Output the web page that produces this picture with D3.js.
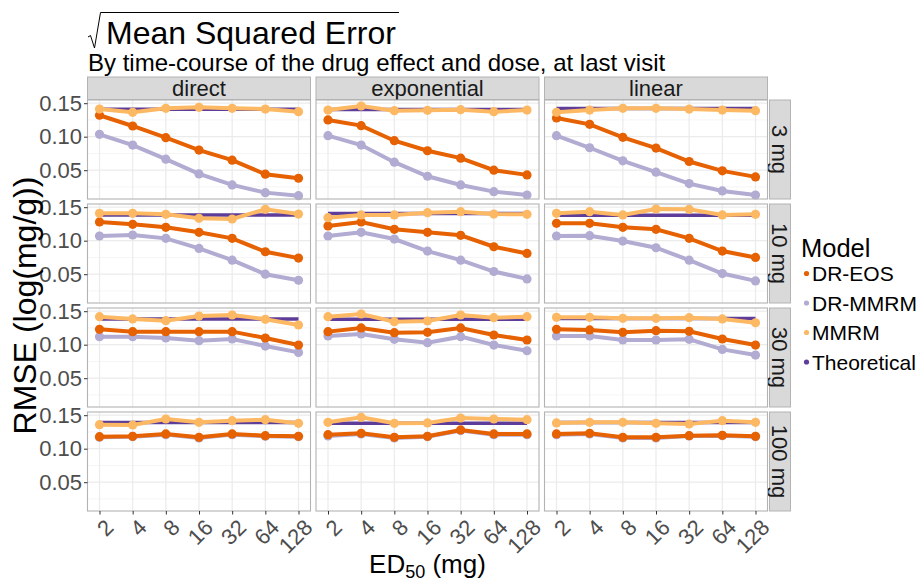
<!DOCTYPE html>
<html lang="en">
<head>
<meta charset="UTF-8">
<title>RMSE</title>
<script src="https://cdn.jsdelivr.net/npm/d3@7"></script>
<style>
  body { margin: 0; background: #fff; }
  svg { font-family: "Liberation Sans", Arial, sans-serif; }
</style>
</head>
<body>
<div class="chart"></div>
<script>
const doses = ['3 mg', '10 mg', '30 mg', '100 mg']
const courses = ['direct', 'exponential', 'linear']
const ed50 = [2, 4, 8, 16, 32, 64, 128]
const models = ['DR-EOS', 'DR-MMRM', 'MMRM', 'Theoretical']
const yTicks = [0.05, 0.10, 0.15]

// values per [dose][course][ed50]
const drEos = [
  [[0.132, 0.116, 0.0985, 0.080, 0.065, 0.044, 0.038],
   [0.125, 0.1165, 0.094, 0.079, 0.068, 0.050, 0.043],
   [0.128, 0.1185, 0.099, 0.083, 0.063, 0.049, 0.040]],
  [[0.128, 0.1245, 0.120, 0.1125, 0.1035, 0.0835, 0.074],
   [0.122, 0.128, 0.117, 0.1125, 0.108, 0.091, 0.081],
   [0.126, 0.126, 0.120, 0.117, 0.1035, 0.0845, 0.075]],
  [[0.123, 0.1195, 0.1195, 0.1195, 0.1195, 0.110, 0.0995],
   [0.1195, 0.125, 0.118, 0.1185, 0.125, 0.1145, 0.107],
   [0.123, 0.122, 0.1185, 0.121, 0.120, 0.1085, 0.0995]],
  [[0.118, 0.1185, 0.122, 0.117, 0.122, 0.1195, 0.1185],
   [0.121, 0.123, 0.117, 0.1185, 0.128, 0.122, 0.122],
   [0.122, 0.123, 0.117, 0.117, 0.1195, 0.120, 0.1185]]
]
const drMmrm = [
  [[0.1035, 0.0875, 0.0665, 0.0445, 0.028, 0.0165, 0.012],
   [0.1015, 0.0875, 0.062, 0.041, 0.028, 0.018, 0.013],
   [0.1015, 0.0835, 0.064, 0.047, 0.030, 0.019, 0.013]],
  [[0.107, 0.1085, 0.1035, 0.0885, 0.071, 0.050, 0.041],
   [0.107, 0.1125, 0.1025, 0.0845, 0.071, 0.054, 0.043],
   [0.107, 0.1075, 0.0995, 0.0895, 0.071, 0.051, 0.040]],
  [[0.112, 0.112, 0.110, 0.106, 0.1085, 0.098, 0.0885],
   [0.113, 0.116, 0.108, 0.103, 0.112, 0.0995, 0.091],
   [0.113, 0.113, 0.107, 0.107, 0.108, 0.093, 0.0845]],
  [[0.117, 0.118, 0.121, 0.116, 0.121, 0.1185, 0.118],
   [0.119, 0.122, 0.116, 0.118, 0.127, 0.121, 0.121],
   [0.121, 0.122, 0.116, 0.116, 0.119, 0.1195, 0.118]]
]
const mmrm = [
  [[0.1413, 0.1364, 0.1424, 0.1439, 0.1424, 0.1413, 0.1373],
   [0.1398, 0.1458, 0.1388, 0.1394, 0.1403, 0.1373, 0.1398],
   [0.1364, 0.1398, 0.1424, 0.1424, 0.1413, 0.1398, 0.1388]],
  [[0.1409, 0.1409, 0.1394, 0.1334, 0.1324, 0.1469, 0.1398],
   [0.1343, 0.1384, 0.1384, 0.1418, 0.1433, 0.1398, 0.1394],
   [0.1409, 0.1433, 0.1384, 0.1473, 0.1469, 0.1384, 0.1394]],
  [[0.1418, 0.1384, 0.1358, 0.1428, 0.1443, 0.1379, 0.1294],
   [0.1418, 0.1458, 0.1343, 0.1354, 0.1443, 0.1403, 0.1418],
   [0.1409, 0.1409, 0.1394, 0.1394, 0.1403, 0.1384, 0.1328]],
  [[0.1358, 0.1354, 0.1443, 0.1394, 0.1418, 0.1433, 0.1379],
   [0.1394, 0.1469, 0.1379, 0.1384, 0.1458, 0.1443, 0.1433],
   [0.1384, 0.1394, 0.1394, 0.1379, 0.1369, 0.1418, 0.1394]]
]
const theoretical = [
  [[0.141, 0.141, 0.141, 0.141, 0.141, 0.141, 0.141],
   [0.1405, 0.1405, 0.1405, 0.1405, 0.1405, 0.1405, 0.1405],
   [0.142, 0.142, 0.142, 0.142, 0.142, 0.142, 0.142]],
  [[0.1385, 0.1385, 0.1385, 0.1385, 0.1385, 0.1385, 0.1385],
   [0.1405, 0.1405, 0.1405, 0.1405, 0.1405, 0.1405, 0.1405],
   [0.138, 0.138, 0.138, 0.138, 0.138, 0.138, 0.138]],
  [[0.1385, 0.1385, 0.1385, 0.1385, 0.1385, 0.1385, 0.1385],
   [0.138, 0.138, 0.138, 0.138, 0.138, 0.138, 0.138],
   [0.139, 0.139, 0.139, 0.139, 0.139, 0.139, 0.139]],
  [[0.139, 0.139, 0.139, 0.139, 0.139, 0.139, 0.139],
   [0.138, 0.138, 0.138, 0.138, 0.138, 0.138, 0.138],
   [0.139, 0.139, 0.139, 0.139, 0.139, 0.139, 0.139]]
]

const colors = { 'DR-EOS': '#e66101', 'DR-MMRM': '#b2abd2', 'MMRM': '#fdb863', 'Theoretical': '#5e3c99' }
const seriesOf = { 'DR-EOS': drEos, 'DR-MMRM': drMmrm, 'MMRM': mmrm, 'Theoretical': theoretical }
// draw order inside a panel
const drawOrder = ['Theoretical', 'DR-MMRM', 'DR-EOS', 'MMRM']

const width = 920
const height = 582
const svg = d3.select('.chart').append('svg')
  .attr('width', width)
  .attr('height', height)

const pw = 223
const ph = 99
const colX = [87.5, 316, 544.5]
const rowY = [100, 204, 308, 412]
const stripH = 23

const x = d3.scaleLog().base(2).domain([2, 128]).range([12, pw - 12])
const y = d3.scaleLinear().domain([0.00701, 0.15478]).range([ph, 0])
const minorY = [0.025, 0.075, 0.125]

// title with a square-root sign
svg.append('path')
  .attr('d', 'M88,37 L90.5,35.5 L94.5,48 L100.5,12.5 L399,12.5')
  .attr('fill', 'none').attr('stroke', '#000').attr('stroke-width', 1)
svg.append('text').attr('x', 106).attr('y', 44)
  .attr('font-size', 32).attr('fill', '#000').text('Mean Squared Error')
svg.append('text').attr('x', 88).attr('y', 71)
  .attr('font-size', 24).attr('fill', '#000')
  .text('By time-course of the drug effect and dose, at last visit')

// top strips
courses.forEach((c, j) => {
  const g = svg.append('g').attr('transform', `translate(${colX[j]},${rowY[0] - stripH})`)
  g.append('rect').attr('width', pw).attr('height', stripH - 0.5)
    .attr('fill', '#d9d9d9').attr('stroke', '#b3b3b3')
  g.append('text').attr('x', pw / 2).attr('y', stripH / 2 + 7.5)
    .attr('text-anchor', 'middle').attr('font-size', 22).attr('fill', '#1a1a1a').text(c)
})

const line = d3.line().x((d, i) => x(ed50[i])).y(d => y(d))

doses.forEach((dose, r) => {
  // right strip
  const sg = svg.append('g').attr('transform', `translate(${colX[2] + pw + 2},${rowY[r]})`)
  sg.append('rect').attr('width', 21).attr('height', ph)
    .attr('fill', '#d9d9d9').attr('stroke', '#b3b3b3')
  sg.append('text').attr('transform', `translate(${10.5},${ph / 2}) rotate(90)`)
    .attr('text-anchor', 'middle').attr('dy', '0.35em')
    .attr('font-size', 22).attr('fill', '#1a1a1a').text(dose)

  courses.forEach((course, j) => {
    const g = svg.append('g').attr('transform', `translate(${colX[j]},${rowY[r]})`)
    g.append('rect').attr('width', pw).attr('height', ph).attr('fill', '#fff')
    g.selectAll('.minor').data(minorY).join('line')
      .attr('x1', 0).attr('x2', pw).attr('y1', d => y(d)).attr('y2', d => y(d))
      .attr('stroke', '#f2f2f2').attr('stroke-width', 0.8)
    g.selectAll('.gy').data(yTicks).join('line')
      .attr('x1', 0).attr('x2', pw).attr('y1', d => y(d)).attr('y2', d => y(d))
      .attr('stroke', '#ebebeb').attr('stroke-width', 1.2)
    g.selectAll('.gx').data(ed50).join('line')
      .attr('x1', d => x(d)).attr('x2', d => x(d)).attr('y1', 0).attr('y2', ph)
      .attr('stroke', '#ebebeb').attr('stroke-width', 1.2)

    drawOrder.forEach(m => {
      const vals = seriesOf[m][r][j]
      g.append('path').datum(vals)
        .attr('d', line).attr('fill', 'none')
        .attr('stroke', colors[m]).attr('stroke-width', m === 'Theoretical' ? 3.5 : 4)
      if (m !== 'Theoretical') {
        g.selectAll(null).data(vals).join('circle')
          .attr('cx', (d, i) => x(ed50[i])).attr('cy', d => y(d))
          .attr('r', 4.6).attr('fill', colors[m])
      }
    })

    g.append('rect').attr('width', pw).attr('height', ph)
      .attr('fill', 'none').attr('stroke', '#b3b3b3').attr('stroke-width', 1.1)

    if (j === 0) {
      const ax = g.append('g').call(d3.axisLeft(y).tickValues(yTicks)
        .tickFormat(d3.format('.2f')).tickSize(3.5).tickPadding(2))
      ax.select('.domain').remove()
      ax.selectAll('line').attr('stroke', '#333')
      ax.selectAll('text').attr('font-size', 22).attr('fill', '#4d4d4d')
        .attr('font-family', '"Liberation Sans", Arial, sans-serif')
    }
    if (r === doses.length - 1) {
      const ax = g.append('g').attr('transform', `translate(0,${ph})`)
        .call(d3.axisBottom(x).tickValues(ed50).tickFormat(d3.format('d')).tickSize(3.5))
      ax.select('.domain').remove()
      ax.selectAll('line').attr('stroke', '#333')
      ax.selectAll('text').attr('font-size', 22).attr('fill', '#4d4d4d')
        .attr('font-family', '"Liberation Sans", Arial, sans-serif')
        .attr('text-anchor', 'end')
        .attr('y', 0).attr('dy', 0)
        .attr('transform', 'translate(5,8) rotate(-45) translate(0,14)')
    }
  })
})

// axis titles
svg.append('text')
  .attr('transform', `translate(36,${rowY[0] + (rowY[3] + ph - rowY[0]) / 2}) rotate(-90)`)
  .attr('text-anchor', 'middle').attr('font-size', 32).attr('fill', '#000')
  .text('RMSE (log(mg/g))')
const xt = svg.append('text').attr('x', (colX[0] + colX[2] + pw) / 2).attr('y', 573)
  .attr('text-anchor', 'middle').attr('font-size', 26).attr('fill', '#000')
xt.append('tspan').text('ED')
xt.append('tspan').attr('font-size', 18).attr('dy', 5).text('50')
xt.append('tspan').attr('dy', -5).text(' (mg)')

// legend
const lg = svg.append('g').attr('transform', 'translate(801,0)')
lg.append('text').attr('x', 0).attr('y', 257).attr('font-size', 25.5).attr('fill', '#000').text('Model')
const items = lg.selectAll('.item').data(models).join('g')
  .attr('transform', (d, i) => `translate(0,${273.5 + i * 29.5})`)
items.append('circle').attr('cx', 5.5).attr('cy', 0).attr('r', 2.6).attr('fill', d => colors[d])
items.append('text').attr('x', 11).attr('y', 0).attr('dy', '0.36em')
  .attr('font-size', 21).attr('fill', '#000').text(d => d)
</script>
</body>
</html>
